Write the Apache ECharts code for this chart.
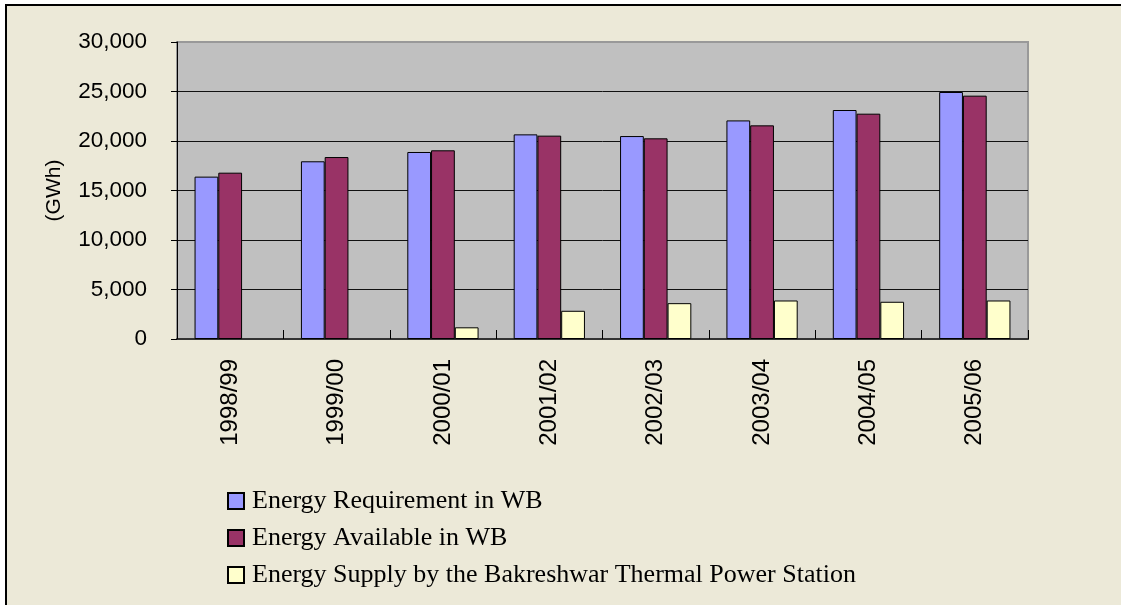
<!DOCTYPE html>
<html>
<head>
<meta charset="utf-8">
<script src="https://cdn.jsdelivr.net/npm/echarts@6/dist/echarts.min.js"></script>
<style>
  html, body { margin: 0; padding: 0; background: #fff; }
  #main { width: 1121px; height: 605px; }
</style>
</head>
<body>
<div id="main"></div>
<script>
var years = ['1998/99', '1999/00', '2000/01', '2001/02', '2002/03', '2003/04', '2004/05', '2005/06'];
var requirement = [16400, 17950, 18890, 20670, 20500, 22080, 23130, 24950];
var available = [16800, 18380, 19060, 20540, 20270, 21580, 22760, 24580];
var bakreshwar = [null, null, 1180, 2850, 3620, 3890, 3760, 3890];
var seriesNames = [
  'Energy Requirement in WB',
  'Energy Available in WB',
  'Energy Supply by the Bakreshwar Thermal Power Station'
];

var sansFont = 'Liberation Sans';

var chart = echarts.init(document.getElementById('main'));

function barStyle(color) {
  return { color: color, borderColor: '#000', borderWidth: 1 };
}

var option = {
  backgroundColor: '#fff',
  animation: false,
  graphic: [{
    type: 'rect',
    z: -10,
    shape: { x: 6, y: 5, width: 1130, height: 620 },
    style: { fill: '#ECE9D8', stroke: '#000', lineWidth: 2 }
  }],
  grid: {
    left: 177, right: 93, top: 42, bottom: 266,
    show: true,
    backgroundColor: '#C0C0C0',
    borderColor: '#999',
    borderWidth: 2
  },
  legend: {
    orient: 'vertical',
    left: 222,
    top: 483,
    itemWidth: 16,
    itemHeight: 16,
    itemGap: 11,
    icon: 'rect',
    textStyle: {
      fontFamily: 'Liberation Serif',
      fontSize: 26,
      lineHeight: 26,
      color: '#000',
      padding: [0, 0, 0, 3]
    },
    data: seriesNames
  },
  xAxis: {
    type: 'category',
    data: years,
    axisLine: { show: true, lineStyle: { color: '#333', width: 2 } },
    axisTick: { show: true, inside: true, length: 9, lineStyle: { color: '#000' } },
    axisLabel: {
      rotate: 90,
      margin: 20,
      fontFamily: sansFont,
      fontSize: 24,
      color: '#000'
    }
  },
  yAxis: {
    type: 'value',
    min: 0,
    max: 30000,
    interval: 5000,
    name: '(GWh)',
    nameLocation: 'middle',
    nameGap: 112,
    nameTextStyle: { fontFamily: sansFont, fontSize: 21, color: '#000' },
    axisLine: { show: true, lineStyle: { color: '#000', width: 1 } },
    axisTick: { show: true, length: 6, lineStyle: { color: '#000' } },
    axisLabel: {
      margin: 30,
      fontFamily: sansFont,
      fontSize: 22.5,
      color: '#000',
      formatter: function (v) { return v.toLocaleString('en-US'); }
    },
    splitLine: { show: true, showMaxLine: false, showMinLine: false, lineStyle: { color: '#111', width: 1 } }
  },
  series: [
    { name: seriesNames[0], type: 'bar', data: requirement, barGap: '0%', barCategoryGap: '33%', itemStyle: barStyle('#9999FF') },
    { name: seriesNames[1], type: 'bar', data: available, barGap: '0%', barCategoryGap: '33%', itemStyle: barStyle('#993366') },
    { name: seriesNames[2], type: 'bar', data: bakreshwar, barGap: '0%', barCategoryGap: '33%', itemStyle: barStyle('#FFFFCC') }
  ]
};

chart.setOption(option);
</script>
</body>
</html>
